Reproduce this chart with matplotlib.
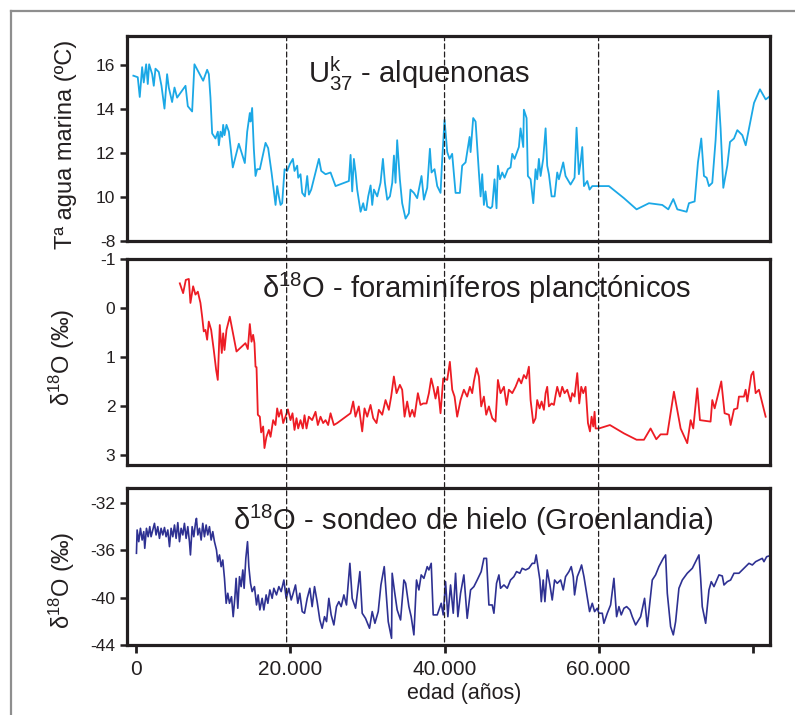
import matplotlib
matplotlib.use("Agg")
import matplotlib.pyplot as plt
from matplotlib.patches import ConnectionPatch
from matplotlib.lines import Line2D

plt.rcParams["font.family"] = ["Liberation Sans", "DejaVu Sans"]
plt.rcParams["mathtext.default"] = "regular"
plt.rcParams["axes.unicode_minus"] = False

# --- U37k alkenone sea-surface temperature (years, ºC)
sst_age = [-400, 170, 430, 740, 950, 1260, 1470, 1650, 2040, 2250, 2470, 2900, 3250, 3640,
           3980, 4200, 4630, 4940, 5280, 6370, 6670, 7230, 7530, 8660, 9180, 9400, 9610, 9830,
           10260, 10570, 10700, 10910, 11130, 11260, 11430, 11690, 12000, 12510, 13290, 14070,
           14380, 14720, 14810, 15020, 15240, 15460, 15670, 16020, 16760, 17100, 17540, 18060,
           18270, 18490, 18710, 18920, 19230, 19570, 19920, 20310, 20520, 20870, 21000, 21300,
           21520, 21870, 22170, 22390, 22690, 23690, 23990, 24550, 25200, 25850, 27580, 27800,
           28010, 28230, 28450, 28660, 29100, 29440, 29620, 29830, 30090, 30400, 30610, 30830,
           31260, 31690, 32000, 32260, 32560, 32910, 33210, 33430, 33640, 33850, 34200, 34500,
           34940, 35370, 35580, 36020, 36450, 37010, 37320, 37750, 38100, 38310, 38700, 39050,
           39480, 39700, 40000, 40350, 40650, 40990, 41430, 41990, 42290, 42730, 43250, 43380,
           43720, 44030, 44460, 44680, 44890, 45110, 45320, 45540, 45970, 46190, 46490, 46750,
           46930, 47190, 47490, 47790, 48220, 48570, 48790, 49090, 49650, 49870, 50220, 50300,
           50650, 50820, 51170, 51520, 51820, 52030, 52250, 52470, 52810, 53120, 53330, 53550,
           53900, 54290, 54630, 54850, 55410, 55710, 56360, 56880, 57140, 57440, 57660, 57880,
           58100, 58530, 58830, 59180, 60040, 61340, 63290, 64930, 66540, 68270, 69050, 69700,
           70220, 71430, 71730, 72470, 72900, 73330, 73680, 74030, 74330, 74760, 75190, 75540,
           75840, 76190, 76710, 77060, 77580, 78010, 78660, 79100, 80180, 80950, 81690, 82120]
sst_val = [15.53, 15.46, 14.56, 15.92, 15.22, 16.05, 15.15, 16.05, 15.6, 15.07, 15.85, 15.7,
           15.07, 14.03, 15.6, 14.99, 14.33, 14.99, 14.53, 15.07, 14.14, 13.9, 16.05, 15.3,
           15.8, 15.6, 14.53, 12.9, 12.67, 12.98, 12.36, 12.98, 12.74, 13.29, 12.82, 13.29,
           12.98, 11.35, 12.43, 11.55, 12.98, 13.83, 13.44, 14.06, 12.2, 10.96, 11.27, 11.27,
           12.47, 12.23, 11.12, 9.64, 10.5, 10.03, 9.64, 9.72, 11.27, 11.19, 11.5, 11.74, 11.19,
           11.43, 10.88, 11.04, 10.19, 10.03, 10.96, 10.11, 10.34, 11.74, 11.19, 11.04, 11.12,
           10.5, 10.73, 11.92, 10.26, 11.74, 11.12, 10.34, 9.33, 9.72, 9.41, 9.41, 10.03, 10.53,
           9.64, 10.34, 10.03, 10.65, 11.74, 10.65, 9.88, 10.03, 10.65, 11.89, 10.65, 12.59,
           10.81, 9.72, 9.02, 9.26, 10.34, 10.19, 9.95, 10.96, 9.88, 10.42, 12.2, 11.12, 11.27,
           10.5, 10.19, 11.74, 13.52, 12.05, 11.74, 11.97, 10.19, 10.19, 11.43, 11.58, 12.74,
           12.05, 13.6, 13.44, 11.12, 10.03, 11.04, 9.64, 10.26, 9.57, 9.49, 9.57, 10.81, 9.49,
           11.43, 10.81, 11.12, 10.88, 11.27, 11.35, 11.97, 11.74, 12.28, 13.13, 12.28, 13.98,
           13.6, 10.96, 10.81, 9.72, 11.27, 10.81, 11.74, 10.96, 11.74, 13.13, 11.43, 11.04,
           10.03, 10.03, 11.12, 10.81, 11.58, 10.96, 10.57, 10.88, 13.16, 11.04, 11.58, 12.28,
           10.5, 10.73, 10.34, 10.5, 10.5, 10.5, 9.95, 9.44, 9.72, 9.64, 9.44, 9.91, 9.44, 9.33,
           9.72, 9.8, 11.58, 12.67, 10.96, 10.88, 10.5, 10.65, 12.59, 14.84, 13.13, 10.42, 11.43,
           12.51, 12.67, 13.05, 12.82, 12.36, 14.29, 14.91, 14.45, 14.56]

# --- planktonic foraminifera d18O (years, permil)
foram_age = [5630, 6060, 6410, 6800, 7010, 7360, 7660, 7970, 8310, 8530, 8740, 8960, 9180,
             9390, 9700, 10040, 10350, 10560, 10820, 11080, 11260, 11430, 11690, 12120, 12990,
             14150, 14460, 14720, 14940, 15150, 15320, 15460, 15590, 15760, 16020, 16190, 16450,
             16620, 16880, 17190, 17410, 17750, 18050, 18270, 18490, 18790, 19050, 19350, 19660,
             20000, 20260, 20520, 20780, 21000, 21300, 21600, 21820, 22080, 22380, 22810, 23250,
             23550, 23900, 24240, 24550, 24890, 25200, 25630, 26060, 27790, 28140, 28440, 28870,
             29310, 29610, 29960, 30390, 30740, 31170, 31470, 31910, 32340, 32770, 33070, 33420,
             33770, 34200, 34500, 34810, 35150, 35500, 35800, 36100, 36540, 36880, 37230, 37660,
             37970, 38270, 38530, 38830, 39130, 39480, 39830, 40350, 40690, 41000, 41300, 41640,
             42080, 42510, 42940, 43290, 43590, 43810, 44160, 44460, 44760, 45110, 45410, 45760,
             46190, 46620, 46930, 47270, 47710, 48050, 48350, 48790, 49220, 49650, 49960, 50300,
             50610, 50950, 51170, 51520, 51820, 52030, 52340, 52600, 52900, 53120, 53330, 53550,
             53900, 54200, 54420, 54630, 54980, 55280, 55580, 55930, 56360, 56580, 56880, 57230,
             57490, 57750, 58010, 58310, 58620, 58880, 59090, 59310, 59480, 59610, 60040, 61470,
             63290, 64930, 65890, 66750, 67490, 68050, 68920, 69780, 70650, 71510, 71950, 72290,
             72810, 73160, 74540, 74760, 75070, 75930, 76360, 76920, 77140, 77580, 78010, 78220,
             78870, 79090, 79310, 79830, 80090, 80390, 80820, 81690]
foram_val = [-0.50, -0.30, -0.57, -0.59, -0.10, -0.44, -0.27, -0.33, -0.10, 0.18, 0.48, 0.45,
             0.65, 0.28, 0.45, 0.86, 1.27, 1.47, 0.35, 0.92, 0.52, 0.86, 0.45, 0.18, 0.89, 0.72,
             0.84, 0.33, 0.69, 0.55, 0.72, 1.20, 1.21, 2.18, 2.22, 2.54, 2.42, 2.86, 2.63, 2.49,
             2.63, 2.29, 2.39, 2.05, 2.22, 2.08, 2.35, 2.22, 2.07, 2.29, 2.15, 2.49, 2.25, 2.46,
             2.29, 2.46, 2.19, 2.46, 2.22, 2.29, 2.12, 2.39, 2.22, 2.35, 2.29, 2.39, 2.15, 2.39,
             2.35, 2.15, 1.91, 2.22, 2.01, 2.52, 2.05, 2.22, 1.98, 2.25, 2.35, 2.08, 2.18, 1.88,
             2.08, 1.81, 1.40, 1.74, 1.57, 1.67, 2.22, 1.91, 2.22, 2.08, 2.22, 1.74, 1.98, 1.95,
             1.95, 1.74, 1.44, 1.61, 1.85, 1.61, 2.15, 1.44, 1.47, 1.10, 1.67, 1.81, 2.22, 1.88,
             1.67, 1.81, 1.61, 1.74, 1.50, 1.23, 1.40, 2.01, 1.81, 2.18, 2.01, 2.25, 2.32, 1.47,
             1.74, 1.61, 1.98, 1.67, 1.74, 1.61, 1.44, 1.54, 1.37, 1.44, 1.20, 1.88, 2.35, 2.25,
             1.88, 2.05, 1.91, 2.08, 1.74, 1.61, 2.01, 1.95, 1.98, 1.78, 1.61, 1.81, 1.61, 1.74,
             1.67, 1.91, 1.74, 1.81, 1.33, 1.95, 1.61, 1.74, 1.61, 2.35, 2.52, 2.22, 2.42, 2.12,
             2.46, 2.46, 2.39, 2.56, 2.69, 2.69, 2.46, 2.68, 2.58, 2.58, 1.71, 2.46, 2.76, 2.29,
             2.46, 1.64, 2.29, 2.32, 1.88, 2.05, 1.50, 2.15, 2.18, 2.39, 2.07, 2.05, 1.81, 1.81,
             1.67, 1.91, 1.37, 1.30, 1.74, 1.67, 2.22]

# --- Greenland ice core d18O (years, permil)
ice_age = [0, 90, 300, 520, 740, 950, 1080, 1300, 1520, 1730, 1900, 2120, 2340, 2550, 2770,
           2990, 3200, 3420, 3640, 3850, 4070, 4290, 4500, 4720, 4940, 5150, 5370, 5590, 5800,
           6020, 6230, 6450, 6670, 6880, 7010, 7230, 7450, 7660, 7790, 7970, 8180, 8400, 8610,
           8830, 9050, 9260, 9480, 9700, 9910, 10130, 10390, 10560, 10780, 11000, 11210, 11430,
           11650, 11860, 12080, 12340, 12560, 12770, 12940, 13160, 13380, 13590, 13810, 13980,
           14200, 14420, 14590, 14810, 15020, 15320, 15590, 15800, 16020, 16320, 16540, 16840,
           17060, 17320, 17620, 17840, 18180, 18490, 18790, 19140, 19440, 19790, 20090, 20350,
           20650, 20950, 21210, 21520, 21820, 22170, 22510, 22810, 23120, 23460, 23810, 24110,
           24420, 24680, 24980, 25280, 25630, 25970, 26280, 26580, 26930, 27270, 27710, 28010,
           28450, 29010, 29310, 29740, 30260, 30610, 30960, 31390, 31740, 32170, 32690, 33120,
           33200, 33510, 33850, 34290, 34720, 34950, 35370, 35670, 36020, 36360, 36670, 36970,
           37320, 37750, 37970, 38270, 38530, 39050, 39570, 39830, 40130, 40430, 40780, 41130,
           41430, 41730, 42080, 42510, 42940, 43380, 43810, 44240, 44760, 45110, 45450, 45760,
           46190, 46410, 46750, 47060, 47270, 47710, 48140, 48570, 49000, 49350, 49780, 50080,
           50520, 50950, 51390, 51690, 51900, 52120, 52380, 52560, 52810, 53030, 53330, 53680,
           53980, 54290, 54630, 55070, 55410, 55710, 56150, 56450, 56710, 56880, 57230, 57580,
           57790, 58100, 58620, 58830, 59180, 59480, 59830, 60040, 60480, 60690, 61130, 61560,
           61990, 62340, 62640, 62940, 63290, 63640, 64070, 64370, 64810, 65460, 65970, 66320,
           66970, 67400, 67830, 68400, 68700, 68920, 69350, 69700, 70000, 70430, 70870, 71510,
           72170, 72600, 73030, 73250, 73460, 73900, 74330, 74630, 74980, 75630, 76060, 76280,
           76710, 77140, 77580, 78220, 78870, 79520, 79960, 80390, 80820, 81250, 81470, 81820,
           82120]
ice_val = [-36.25, -34.28, -35.27, -34.14, -35.13, -34.42, -35.83, -34.14, -34.85, -34.0,
           -34.85, -34.28, -33.72, -34.7, -34.0, -34.99, -34.14, -34.7, -34.07, -34.85, -34.28,
           -35.69, -34.14, -34.85, -33.86, -34.99, -33.66, -35.27, -34.14, -34.7, -33.72, -34.99,
           -34.0, -35.27, -36.39, -34.0, -34.85, -33.72, -33.3, -34.7, -34.14, -35.13, -33.72,
           -34.85, -33.86, -34.7, -34.0, -35.13, -34.42, -35.27, -35.97, -36.96, -36.39, -37.38,
           -36.82, -38.37, -40.48, -39.63, -40.48, -39.92, -41.61, -40.06, -38.37, -40.9, -38.23,
           -39.07, -37.66, -39.21, -36.68, -35.27, -37.38, -38.79, -39.49, -39.07, -40.62, -39.77,
           -41.04, -40.06, -41.04, -39.77, -40.48, -39.35, -40.06, -39.21, -39.77, -39.07, -39.49,
           -38.51, -40.06, -39.21, -40.2, -39.63, -38.93, -40.48, -39.63, -41.18, -41.32, -40.06,
           -39.21, -40.76, -39.07, -40.34, -41.89, -42.59, -41.61, -42.03, -40.06, -41.46, -42.31,
           -40.76, -40.34, -40.76, -39.77, -40.62, -37.1, -40.06, -40.9, -37.8, -41.32, -41.75,
           -42.59, -41.18, -42.17, -41.18, -38.93, -37.38, -42.03, -43.44, -37.94, -39.49, -41.04,
           -41.89, -38.51, -38.79, -40.76, -41.61, -43.15, -38.51, -39.35, -38.08, -38.37, -37.38,
           -37.66, -37.1, -41.46, -41.46, -40.48, -41.46, -38.65, -41.61, -38.93, -41.32, -37.94,
           -41.61, -39.63, -38.08, -41.75, -39.35, -39.07, -38.51, -37.8, -36.68, -36.68, -40.62,
           -40.62, -41.32, -38.79, -38.08, -39.21, -38.93, -39.21, -38.51, -38.23, -37.8, -37.94,
           -37.52, -37.66, -37.52, -37.1, -37.1, -36.39, -37.38, -38.51, -40.34, -38.51, -40.34,
           -37.66, -38.93, -40.2, -38.51, -38.79, -38.51, -39.35, -38.23, -37.8, -37.38, -38.23,
           -39.77, -38.23, -37.66, -37.24, -38.23, -40.34, -41.18, -40.48, -41.18, -40.9, -41.32,
           -41.32, -42.17, -41.32, -40.62, -38.37, -41.61, -40.76, -41.46, -40.9, -40.76, -41.04,
           -41.61, -42.31, -41.61, -40.06, -42.45, -38.51, -38.08, -37.38, -36.68, -36.39, -39.63,
           -42.45, -43.15, -42.03, -39.21, -38.51, -37.94, -37.52, -36.96, -36.39, -38.37, -40.76,
           -42.17, -39.35, -38.65, -39.07, -38.08, -38.17, -38.93, -38.65, -38.51, -37.94, -37.94,
           -37.52, -37.1, -37.24, -36.96, -36.82, -36.68, -36.96, -36.54, -36.48]

AGE_TICKS = [0, 20000, 40000, 60000, 80000]
AGE_LABELS = ["0", "20.000", "40.000", "60.000", ""]
VLINES = [19500, 40000, 60000]
XLIM = (-1200, 82300)

INK = "#231f20"
C_SST, C_FORAM, C_ICE = "#1ba8e6", "#ed1c24", "#2e3192"

fig = plt.figure(figsize=(7.95, 7.15), dpi=100)
ax1 = fig.add_axes([0.160, 0.663, 0.809, 0.287])
ax2 = fig.add_axes([0.160, 0.350, 0.809, 0.288])
ax3 = fig.add_axes([0.160, 0.098, 0.809, 0.220])

ax1.plot(sst_age, sst_val, color=C_SST, lw=1.3)
ax2.plot(foram_age, foram_val, color=C_FORAM, lw=1.3)
ax3.plot(ice_age, ice_val, color=C_ICE, lw=1.2)

ax1.set_ylim(8, 17.35)
ax1.set_yticks([8, 10, 12, 14, 16], ["-8", "10", "12", "14", "16"])
ax2.set_ylim(3.2, -1)
ax2.set_yticks([-1, 0, 1, 2, 3])
ax3.set_ylim(-44, -30.7)
ax3.set_yticks([-44, -40, -36, -32])

for ax in (ax1, ax2, ax3):
    ax.set_xlim(*XLIM)
    for sp in ax.spines.values():
        sp.set_linewidth(2.3)
        sp.set_color(INK)
    ax.tick_params(axis="y", direction="out", length=5, width=1.8, pad=3.5,
                   labelsize=12.5, color=INK, labelcolor=INK)
for ax in (ax1, ax2):
    ax.set_xticks([])
ax3.set_xticks(AGE_TICKS, AGE_LABELS)
ax3.tick_params(axis="x", direction="out", length=5.5, width=2, pad=5.5,
                labelsize=15, color=INK, labelcolor=INK)

ax1.set_ylabel("Tª agua marina (ºC)", fontsize=17, color=INK)
ax2.set_ylabel("δ$^{18}$O (‰)", fontsize=17, color=INK)
ax3.set_ylabel("δ$^{18}$O (‰)", fontsize=17, color=INK)
ax1.yaxis.set_label_coords(-0.078, 0.47)
ax2.yaxis.set_label_coords(-0.078, 0.52)
ax3.yaxis.set_label_coords(-0.078, 0.41)
ax3.set_xlabel("edad (años)", fontsize=15.5, color=INK)
ax3.xaxis.set_label_coords(0.524, -0.24)

ax1.text(0.281, 0.77, "$U^k_{37}$ - alquenonas", transform=ax1.transAxes,
         fontsize=21, color=INK, ha="left", va="baseline")
ax2.text(0.21, 0.81, "δ$^{18}$O - foraminíferos planctónicos", transform=ax2.transAxes,
         fontsize=21, color=INK, ha="left", va="baseline")
ax3.text(0.165, 0.73, "δ$^{18}$O - sondeo de hielo (Groenlandia)", transform=ax3.transAxes,
         fontsize=21, color=INK, ha="left", va="baseline")

# dashed reference ages running through all three panels
for xv in VLINES:
    con = ConnectionPatch(xyA=(xv, ax1.get_ylim()[1]), coordsA=ax1.transData,
                          xyB=(xv, ax3.get_ylim()[0]), coordsB=ax3.transData,
                          color=INK, lw=0.9, ls=(0, (4, 2.5)), zorder=5)
    fig.add_artist(con)

# grey frame remnants (top + left)
fig.add_artist(Line2D([0.0138, 1.0], [0.9846, 0.9846], transform=fig.transFigure,
                      color="#8e8e8e", lw=1.6))
fig.add_artist(Line2D([0.0138, 0.0138], [0.0, 0.9846], transform=fig.transFigure,
                      color="#8e8e8e", lw=1.6))

fig.savefig("out.png", dpi=100)
